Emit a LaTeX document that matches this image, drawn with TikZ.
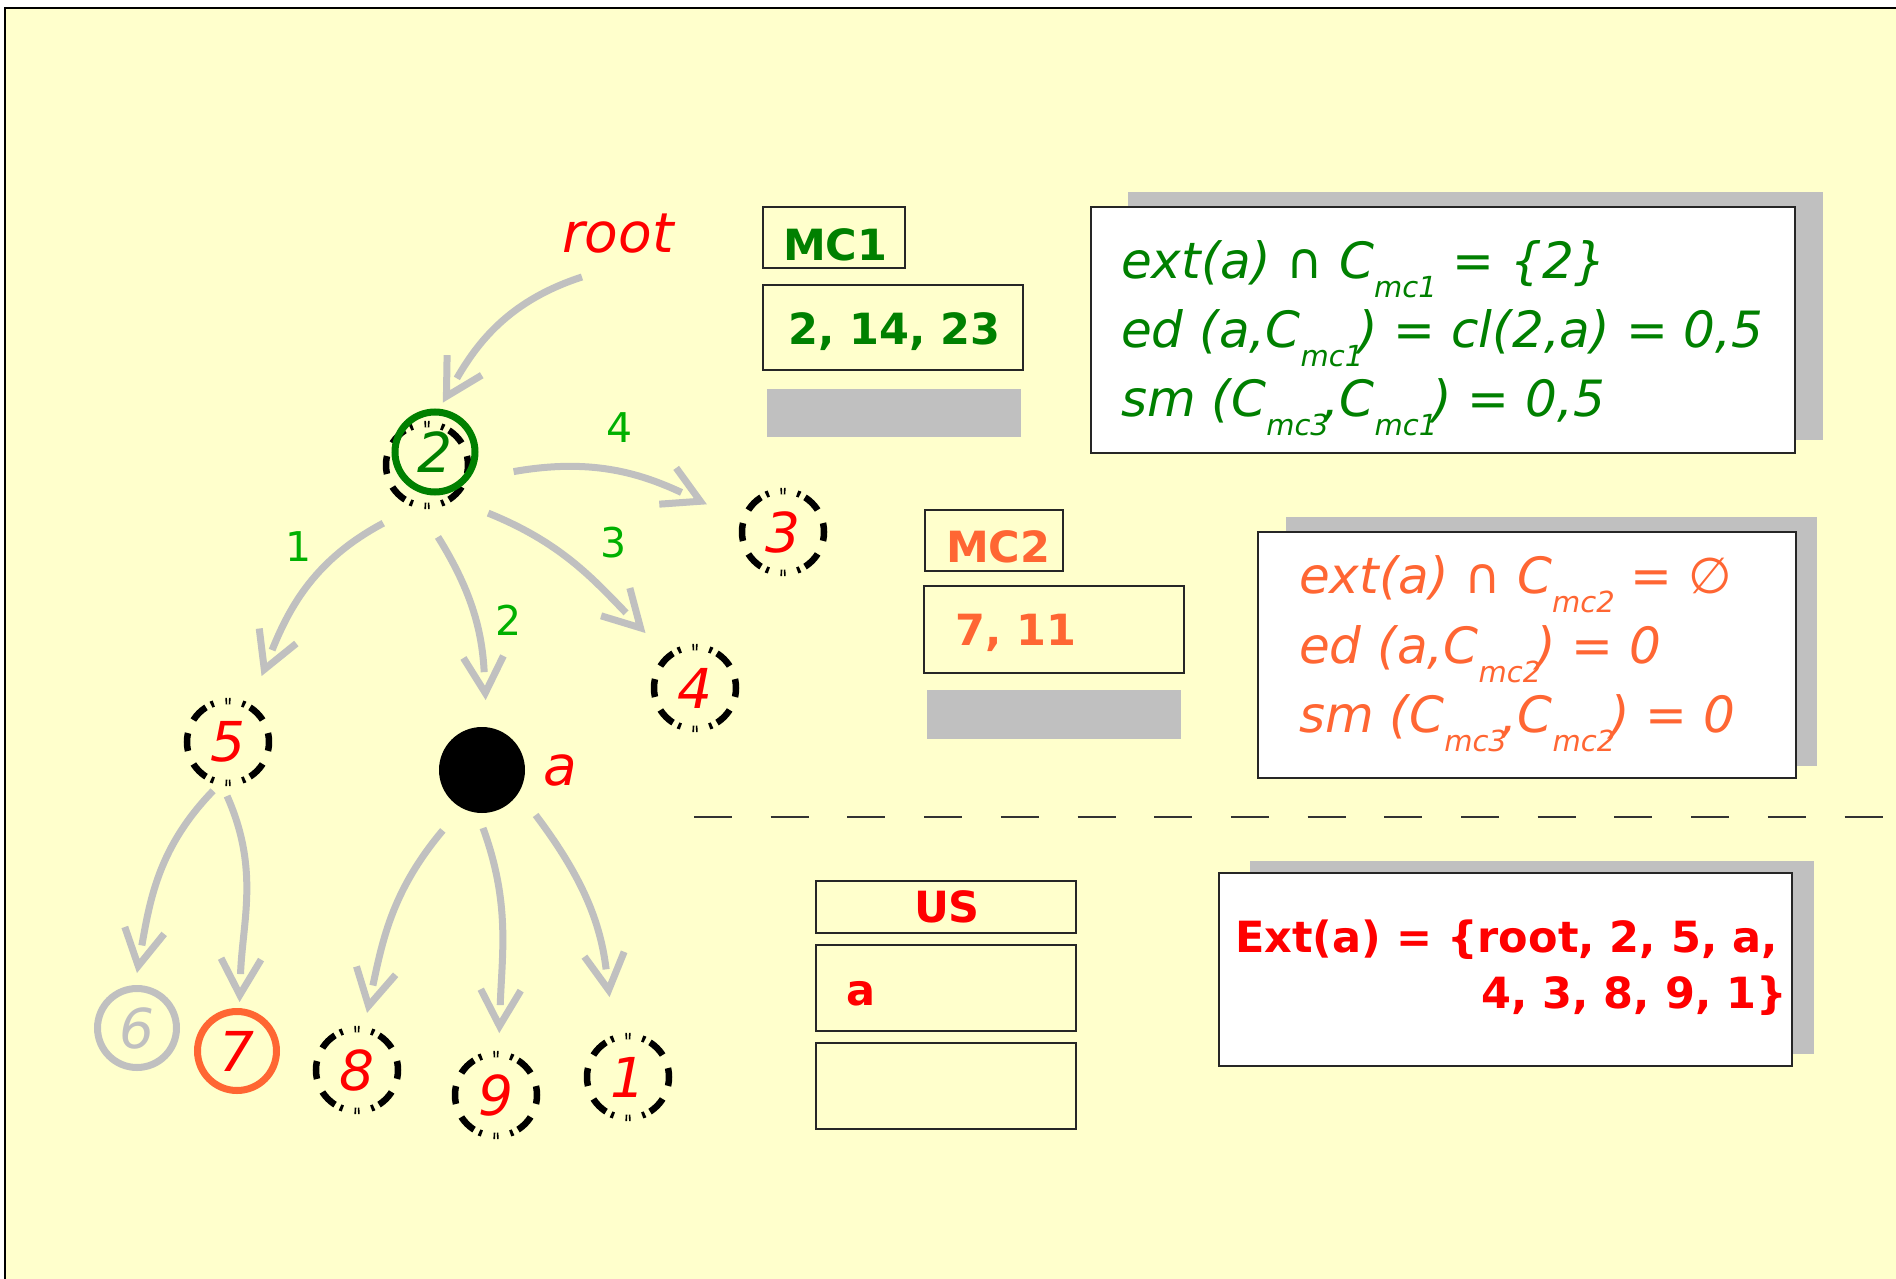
\documentclass[tikz,border=0pt]{standalone}
\usepackage{fontspec}
\setmainfont{DejaVu Sans}
\usetikzlibrary{arrows.meta,calc,decorations.markings}

\definecolor{paper}{HTML}{FFFFCC}
\definecolor{lgray}{HTML}{C0C0C0}
\definecolor{dgreen}{HTML}{008000}
\definecolor{lgreen}{RGB}{0,176,0}
\definecolor{ored}{HTML}{FF0000}
\definecolor{orng}{HTML}{FF6633}

\newcommand{\fsz}[1]{\fontsize{#1}{#1}\selectfont}
\newcommand{\lowsub}[1]{\raisebox{-19pt}{\fsz{29}#1}}

\begin{document}
\begin{tikzpicture}[x=1pt,y=1pt,
  dring/.style={circle, draw=black, line width=6.5pt, minimum size=82pt,
    inner sep=0pt, outer sep=0pt,
    dash pattern=on 18pt off 14.2pt on 18pt off 14.2pt on 18pt off 5.7pt on 3pt off 12pt on 1.6pt off 1.8pt on 1.6pt off 12pt on 3pt off 5.7pt,
    dash phase=41.2pt},
  ring/.style={circle, line width=7pt, minimum size=80pt, inner sep=0pt, outer sep=0pt},
  tnum/.style={font=\fsz{55}\itshape, text=ored},
  elabel/.style={font=\fsz{41}, text=lgreen, inner sep=0pt},
  arr/.style={draw=lgray, line width=7pt, shorten >=28pt,
    postaction={decorate, decoration={markings,
      mark=at position 1 with {\arrow[lgray]{Straight Barb[length=36pt,width=40pt,line width=7pt]}}}}},
  frame/.style={draw=black!85, line width=1.5pt, inner sep=0pt, outer sep=0pt, anchor=north west},
  shade/.style={fill=lgray, inner sep=0pt, outer sep=0pt, anchor=north west},
  card/.style={fill=white, draw=black!85, line width=1.5pt, inner sep=0pt, outer sep=0pt, anchor=north west},
  btext/.style={font=\fsz{43}\bfseries, inner sep=0pt, anchor=base west},
  etext/.style={font=\fsz{50}\itshape, inner sep=0pt, anchor=base west},
]
\useasboundingbox (0,0) rectangle (1896,-1279);
\fill[white] (0,0) rectangle (1896,-1279);
\fill[paper] (5,-8) rectangle (1896,-1279);
\draw[line width=1.5pt] (5,-1279) -- (5,-8) -- (1896,-8);

% separator
\coordinate (sepL) at (694,-817);
\coordinate (sepR) at (1896,-817);
\draw[black!80, line width=2pt, dash pattern=on 38pt off 38.7pt] (sepL) -- (sepR);

% tree
\node[font=\fsz{55}\itshape, text=ored, inner sep=0pt, anchor=base west] (root) at (562,-252) {root};
\node[dring] (n2d) at (427,-465) {};
\node[ring, draw=dgreen, text=dgreen, font=\fsz{55}\itshape] (n2) at (435,-452) {2};
\node[dring, tnum] (n3) at (783,-532) {3};
\node[dring, tnum] (n4) at (695,-688) {4};
\node[dring, tnum] (n5) at (228,-742) {5};
\node[circle, fill=black, minimum size=86pt, inner sep=0pt, outer sep=0pt] (na) at (482,-770) {};
\node[font=\fsz{55}\itshape, text=ored, inner sep=0pt] (alab) at (560,-770) {a};
\node[ring, draw=lgray, text=lgray, minimum size=79pt, font=\fsz{55}\itshape] (n6) at (137,-1028) {6};
\node[ring, draw=orng, minimum size=79pt, tnum] (n7) at (237,-1051) {7};
\node[dring, tnum] (n8) at (357,-1070) {8};
\node[dring, tnum] (n9) at (496,-1095) {9};
\node[dring, tnum] (n1) at (628,-1077) {1};

\draw[arr] ($(root.base)+(-36,-25)$) to[out=198,in=60] ($(n2)+(81:50)$);
\draw[arr] ($(n2)+(-14:81)$) to[out=10,in=155] ($(n3)+(160:81)$);
\draw[arr] ($(n2)+(234:88)$) to[out=208,in=68] ($(n5)+(63:74)$);
\draw[arr] ($(n2)+(-88:85)$) to[out=-58,in=93] ($(na)+(87:70)$);
\draw[arr] ($(n2)+(-49:81)$) to[out=-22,in=134] ($(n4)+(132:74)$);
\draw[arr] ($(n5)+(253:51)$) to[out=226,in=80] ($(n6)+(90:55)$);
\draw[arr] ($(n5)+(269:54)$) to[out=-66,in=88] ($(n7)+(87:49)$);
\draw[arr] ($(na)+(237:72)$) to[out=230,in=78] ($(n8)+(80:58)$);
\draw[arr] ($(na)+(-89:58)$) to[out=-70,in=88] ($(n9)+(87:62)$);
\draw[arr] ($(na)+(-40:70)$) to[out=-53,in=97] ($(n1)+(103:82)$);

\node[elabel] (e4) at (620,-428) {4};
\node[elabel] (e1) at (299,-547) {1};
\node[elabel] (e2) at (509,-620) {2};
\node[elabel] (e3) at (614,-543) {3};

% MC1 column
\node[frame, minimum width=142pt, minimum height=61pt] (mcAh) at (763,-207) {};
\node[btext, text=dgreen] (mcAt) at (783,-260) {MC1};
\node[frame, minimum width=260pt, minimum height=85pt] (mcAl) at (763,-285) {};
\node[btext, text=dgreen] (mcAv) at (788,-344) {2, 14, 23};
\node[shade, minimum width=254pt, minimum height=48pt] (mcAg) at (767,-389) {};

% MC2 column
\node[frame, minimum width=138pt, minimum height=61pt] (mcBh) at (925,-510) {};
\node[btext, text=orng] (mcBt) at (946,-562) {MC2};
\node[frame, minimum width=260pt, minimum height=87pt] (mcBl) at (924,-586) {};
\node[btext, text=orng] (mcBv) at (955,-645) {7, 11};
\node[shade, minimum width=254pt, minimum height=49pt] (mcBg) at (927,-690) {};

% US column
\node[frame, minimum width=260pt, minimum height=52pt] (usH) at (816,-881) {};
\node[font=\fsz{43}\bfseries, text=ored, inner sep=0pt, anchor=base] (usT) at (947,-922) {US};
\node[frame, minimum width=260pt, minimum height=86pt] (usL) at (816,-945) {};
\node[btext, text=ored] (usV) at (846,-1005) {a};
\node[frame, minimum width=260pt, minimum height=86pt] (usE) at (816,-1043) {};

% MC1 formulas
\node[shade, minimum width=695pt, minimum height=248pt] (eqAs) at (1128,-192) {};
\node[card, minimum width=704pt, minimum height=246pt] (eqA) at (1091,-207) {};
\node[etext, text=dgreen] (eqA1) at (1121,-278) {ext(a) {\upshape∩} C\lowsub{mc1} = \{2\}};
\node[etext, text=dgreen] (eqA2) at (1121,-347) {ed (a,C\lowsub{mc1}\kern-5pt) = cl(2,a) = 0,5};
\node[etext, text=dgreen] (eqA3) at (1121,-416) {sm (C\lowsub{mc3}\kern-5pt,C\lowsub{mc1}\kern-5pt) = 0,5};

% MC2 formulas
\node[shade, minimum width=531pt, minimum height=249pt] (eqBs) at (1286,-517) {};
\node[card, minimum width=538pt, minimum height=246pt] (eqB) at (1258,-532) {};
\node[etext, text=orng] (eqB1) at (1299,-593) {ext(a) {\upshape∩} C\lowsub{mc2} = {\upshape∅}};
\node[etext, text=orng] (eqB2) at (1299,-663) {ed (a,C\lowsub{mc2}\kern-5pt) = 0};
\node[etext, text=orng] (eqB3) at (1299,-732) {sm (C\lowsub{mc3}\kern-5pt,C\lowsub{mc2}\kern-5pt) = 0};

% extension set
\node[shade, minimum width=564pt, minimum height=193pt] (extS) at (1250,-861) {};
\node[card, minimum width=573pt, minimum height=193pt] (extB) at (1219,-873) {};
\node[btext, text=ored] (ext1) at (1235,-952) {Ext(a) = \{root, 2, 5, a,};
\node[font=\fsz{43}\bfseries, text=ored, inner sep=0pt, anchor=base east] (ext2) at (1787,-1008) {4, 3, 8, 9, 1\}};
\end{tikzpicture}
\end{document}
